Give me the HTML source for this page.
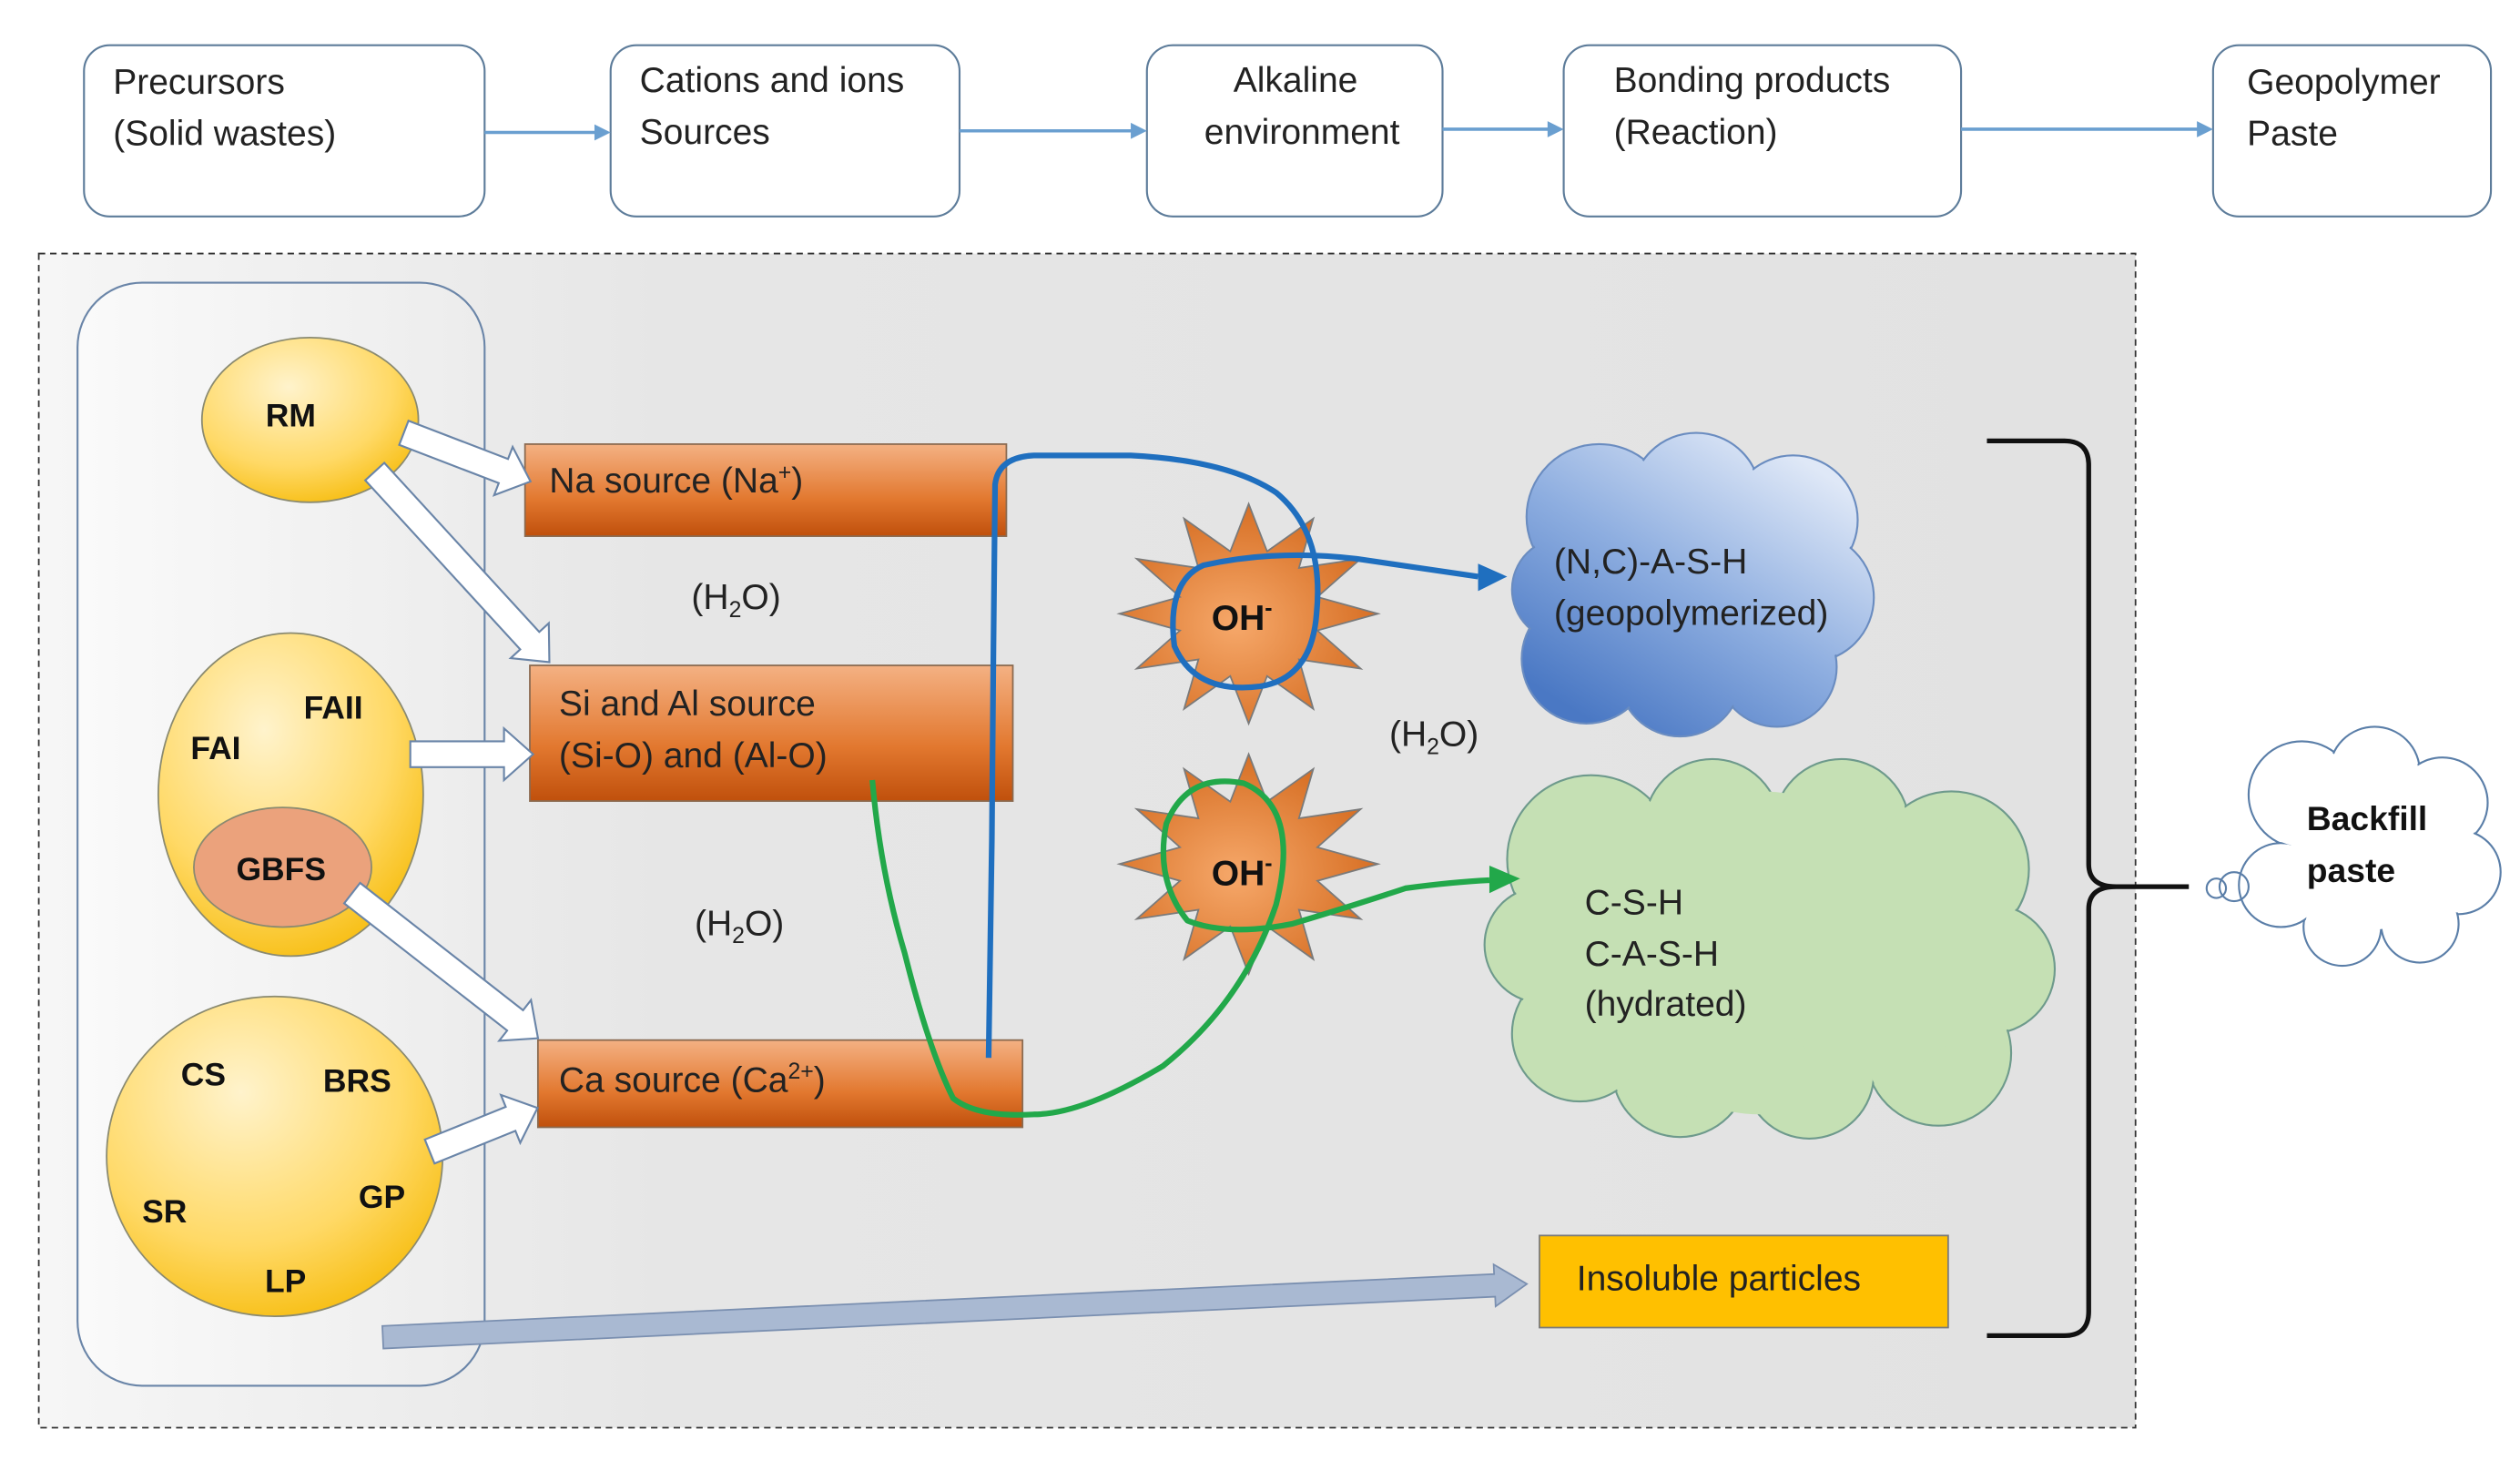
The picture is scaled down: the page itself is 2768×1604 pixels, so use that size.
<!DOCTYPE html>
<html><head><meta charset="utf-8"><style>html,body{margin:0;padding:0;background:#fff}svg{display:block}</style></head>
<body>
<svg width="2768" height="1604" viewBox="0 0 1560 904" preserveAspectRatio="none" xmlns="http://www.w3.org/2000/svg" font-family="Liberation Sans, sans-serif">
<defs>
<linearGradient id="bg" x1="0" y1="0" x2="1" y2="0"><stop offset="0" stop-color="#f6f6f6"/><stop offset="0.3" stop-color="#e6e6e6"/><stop offset="1" stop-color="#e2e2e2"/></linearGradient>
<linearGradient id="inner" x1="0" y1="0" x2="1" y2="0"><stop offset="0" stop-color="#fafafa"/><stop offset="1" stop-color="#ececec"/></linearGradient>
<radialGradient id="yel" cx="0.4" cy="0.3" r="0.8"><stop offset="0" stop-color="#fff3cc"/><stop offset="0.6" stop-color="#ffd966"/><stop offset="1" stop-color="#f5b800"/></radialGradient>
<linearGradient id="org" x1="0" y1="0" x2="0" y2="1"><stop offset="0" stop-color="#f4b183"/><stop offset="0.6" stop-color="#e2782f"/><stop offset="1" stop-color="#c0500c"/></linearGradient>
<radialGradient id="star" cx="0.45" cy="0.55" r="0.6"><stop offset="0" stop-color="#f6a86a"/><stop offset="1" stop-color="#d46a1e"/></radialGradient>
<linearGradient id="blue" gradientUnits="userSpaceOnUse" x1="1100" y1="275" x2="990" y2="450"><stop offset="0" stop-color="#dfe8f7"/><stop offset="0.5" stop-color="#8eaee0"/><stop offset="1" stop-color="#4a78c4"/></linearGradient>
</defs>
<rect width="1560" height="904" fill="#fff"/>
<g fill="#fff" stroke="#5d7c9a" stroke-width="1.2">
<rect x="52" y="28" width="248" height="106" rx="16"/>
<rect x="378" y="28" width="216" height="106" rx="16"/>
<rect x="710" y="28" width="183" height="106" rx="16"/>
<rect x="968" y="28" width="246" height="106" rx="16"/>
<rect x="1370" y="28" width="172" height="106" rx="16"/>
</g>
<g stroke="#6a9fd0" stroke-width="2" fill="#6a9fd0">
<line x1="300" y1="82" x2="370" y2="82"/><polygon points="378,82 368,77 368,87" stroke="none"/>
<line x1="594" y1="81" x2="702" y2="81"/><polygon points="710,81 700,76 700,86" stroke="none"/>
<line x1="893" y1="80" x2="960" y2="80"/><polygon points="968,80 958,75 958,85" stroke="none"/>
<line x1="1214" y1="80" x2="1362" y2="80"/><polygon points="1370,80 1360,75 1360,85" stroke="none"/>
</g>
<g font-size="22" fill="#222">
<text x="70" y="58">Precursors</text><text x="70" y="90">(Solid wastes)</text>
<text x="396" y="57">Cations and ions</text><text x="396" y="89">Sources</text>
<text x="802" y="57" text-anchor="middle">Alkaline</text><text x="806" y="89" text-anchor="middle">environment</text>
<text x="999" y="57">Bonding products</text><text x="999" y="89">(Reaction)</text>
<text x="1391" y="58">Geopolymer</text><text x="1391" y="90">Paste</text>
</g>
<rect x="24" y="157" width="1298" height="727" fill="url(#bg)" stroke="#333" stroke-width="1" stroke-dasharray="4,3"/>
<rect x="48" y="175" width="252" height="683" rx="40" fill="url(#inner)" stroke="#6a85a8" stroke-width="1.2"/>
<g stroke="#8a8a70" stroke-width="1">
<ellipse cx="192" cy="260" rx="67" ry="51" fill="url(#yel)"/>
<ellipse cx="180" cy="492" rx="82" ry="100" fill="url(#yel)"/>
<ellipse cx="175" cy="537" rx="55" ry="37" fill="#eba27c"/>
<ellipse cx="170" cy="716" rx="104" ry="99" fill="url(#yel)"/>
</g>
<g font-size="20" font-weight="bold" fill="#111">
<text x="180" y="264" text-anchor="middle">RM</text>
<text x="188" y="445">FAII</text><text x="118" y="470">FAI</text>
<text x="174" y="545" text-anchor="middle">GBFS</text>
<text x="112" y="672">CS</text><text x="200" y="676">BRS</text>
<text x="88" y="757">SR</text><text x="222" y="748">GP</text><text x="164" y="800">LP</text>
</g>
<g fill="url(#org)" stroke="#8a6a50" stroke-width="1">
<rect x="325" y="275" width="298" height="57"/>
<rect x="328" y="412" width="299" height="84"/>
<rect x="333" y="644" width="300" height="54"/>
</g>
<g font-size="22" fill="#222">
<text x="340" y="305">Na source (Na<tspan font-size="14" dy="-8">+</tspan><tspan dy="8">)</tspan></text>
<text x="346" y="443">Si and Al source</text><text x="346" y="475">(Si-O) and (Al-O)</text>
<text x="346" y="676">Ca source (Ca<tspan font-size="14" dy="-8">2+</tspan><tspan dy="8">)</tspan></text>
<text x="428" y="377">(H<tspan font-size="14" dy="5">2</tspan><tspan dy="-5">O)</tspan></text>
<text x="430" y="579">(H<tspan font-size="14" dy="5">2</tspan><tspan dy="-5">O)</tspan></text>
<text x="860" y="462">(H<tspan font-size="14" dy="5">2</tspan><tspan dy="-5">O)</tspan></text>
</g>
<g fill="#fff" stroke="#6a85a8" stroke-width="1.2">
<g transform="translate(250,268) rotate(21)"><path d="M0,-8 L66,-8 L66,-16 L84,0 L66,16 L66,8 L0,8Z"/></g>
<g transform="translate(232,292) rotate(47.5)"><path d="M0,-8 L142,-8 L142,-16 L160,0 L142,16 L142,8 L0,8Z"/></g>
<g transform="translate(254,467) rotate(0)"><path d="M0,-8 L58,-8 L58,-16 L76,0 L58,16 L58,8 L0,8Z"/></g>
<g transform="translate(218,553) rotate(38)"><path d="M0,-8 L128,-8 L128,-16 L146,0 L128,16 L128,8 L0,8Z"/></g>
<g transform="translate(266,713) rotate(-22)"><path d="M0,-8 L54,-8 L54,-16 L72,0 L54,16 L54,8 L0,8Z"/></g>
</g>
<g transform="translate(237,828) rotate(-2.67)" fill="#a9b9d2" stroke="#7a8fb0" stroke-width="1"><path d="M0,-7 L689,-7 L689,-13 L709,0 L689,13 L689,7 L0,7Z"/></g>
<g stroke="#7a7a7a" stroke-width="1" fill="url(#star)">
<polygon transform="translate(773,380)" points="80,0 42.5,10.4 69.3,34 31.1,28.3 40,58.9 11.4,38.6 0,68 -11.4,38.6 -40,58.9 -31.1,28.3 -69.3,34 -42.5,10.4 -80,0 -42.5,-10.4 -69.3,-34 -31.1,-28.3 -40,-58.9 -11.4,-38.6 0,-68 11.4,-38.6 40,-58.9 31.1,-28.3 69.3,-34 42.5,-10.4"/>
<polygon transform="translate(773,535)" points="80,0 42.5,10.4 69.3,34 31.1,28.3 40,58.9 11.4,38.6 0,68 -11.4,38.6 -40,58.9 -31.1,28.3 -69.3,34 -42.5,10.4 -80,0 -42.5,-10.4 -69.3,-34 -31.1,-28.3 -40,-58.9 -11.4,-38.6 0,-68 11.4,-38.6 40,-58.9 31.1,-28.3 69.3,-34 42.5,-10.4"/>
</g>
<g font-size="22" font-weight="bold" fill="#111">
<text x="750" y="390">OH<tspan font-size="14" dy="-9">-</tspan></text>
<text x="750" y="548">OH<tspan font-size="14" dy="-9">-</tspan></text>
</g>
<g stroke="#6a8cc0" stroke-width="1.2" fill="url(#blue)">
<circle cx="990" cy="320" r="45"/><circle cx="1050" cy="308" r="40"/><circle cx="1110" cy="322" r="40"/><circle cx="1120" cy="370" r="40"/><circle cx="1100" cy="413" r="37"/><circle cx="1040" cy="418" r="38"/><circle cx="982" cy="408" r="40"/><circle cx="968" cy="365" r="32"/>
</g>
<g fill="url(#blue)"><circle cx="990" cy="320" r="44"/><circle cx="1050" cy="308" r="39"/><circle cx="1110" cy="322" r="39"/><circle cx="1120" cy="370" r="39"/><circle cx="1100" cy="413" r="36"/><circle cx="1040" cy="418" r="37"/><circle cx="982" cy="408" r="39"/><circle cx="968" cy="365" r="31"/><circle cx="1045" cy="365" r="60"/></g>
<g stroke="#6e9a8c" stroke-width="1.2" fill="#c5e0b4">
<circle cx="985" cy="532" r="52"/><circle cx="1060" cy="512" r="42"/><circle cx="1140" cy="512" r="42"/><circle cx="1208" cy="538" r="48"/><circle cx="1232" cy="600" r="40"/><circle cx="1200" cy="652" r="45"/><circle cx="1120" cy="665" r="40"/><circle cx="1040" cy="662" r="42"/><circle cx="978" cy="640" r="42"/><circle cx="955" cy="585" r="36"/>
</g>
<g fill="#c5e0b4"><circle cx="985" cy="532" r="51"/><circle cx="1060" cy="512" r="41"/><circle cx="1140" cy="512" r="41"/><circle cx="1208" cy="538" r="47"/><circle cx="1232" cy="600" r="39"/><circle cx="1200" cy="652" r="44"/><circle cx="1120" cy="665" r="39"/><circle cx="1040" cy="662" r="41"/><circle cx="978" cy="640" r="41"/><circle cx="955" cy="585" r="35"/><circle cx="1090" cy="590" r="100"/><circle cx="1160" cy="600" r="65"/><circle cx="1005" cy="595" r="45"/></g>
<g stroke="#5a7ea8" stroke-width="1.2" fill="#fff">
<circle cx="1425" cy="492" r="33"/><circle cx="1470" cy="478" r="28"/><circle cx="1512" cy="497" r="28"/><circle cx="1522" cy="540" r="26"/><circle cx="1498" cy="572" r="24"/><circle cx="1450" cy="574" r="24"/><circle cx="1412" cy="548" r="26"/>
</g>
<g fill="#fff"><circle cx="1425" cy="492" r="32"/><circle cx="1470" cy="478" r="27"/><circle cx="1512" cy="497" r="27"/><circle cx="1522" cy="540" r="25"/><circle cx="1498" cy="572" r="23"/><circle cx="1450" cy="574" r="23"/><circle cx="1412" cy="548" r="25"/><circle cx="1466" cy="528" r="48"/></g>
<g fill="none" stroke="#5a7ea8" stroke-width="1.2"><circle cx="1372" cy="550" r="6"/><circle cx="1383" cy="549" r="9"/></g>
<g font-size="22" fill="#222">
<text x="962" y="355">(N,C)-A-S-H</text><text x="962" y="387">(geopolymerized)</text>
<text x="981" y="566">C-S-H</text><text x="981" y="598">C-A-S-H</text><text x="981" y="629">(hydrated)</text>
</g>
<g font-size="21" font-weight="bold" fill="#111"><text x="1428" y="514">Backfill</text><text x="1428" y="546">paste</text></g>
<rect x="953" y="765" width="253" height="57" fill="#ffc000" stroke="#7a7a7a" stroke-width="1"/>
<text x="976" y="799" font-size="22" fill="#222">Insoluble particles</text>
<path d="M1230,273 L1278,273 Q1293,273 1293,288 L1293,535 Q1293,549 1310,549 L1355,549 M1310,549 Q1293,549 1293,563 L1293,812 Q1293,827 1278,827 L1230,827" fill="none" stroke="#111" stroke-width="3"/>
<path d="M612,655 L614,520 L615,400 L616,300 Q618,283 640,282 L700,282 Q760,285 790,305 Q820,330 815,380 Q812,420 780,425 Q740,430 727,400 Q722,360 745,350 Q790,340 840,346 Q880,352 915,357" fill="none" stroke="#1f6fbf" stroke-width="3.5" stroke-linejoin="round"/>
<polygon points="933,357 915,349 915,366" fill="#1f6fbf"/>
<path d="M540,483 Q545,540 560,590 Q575,650 590,680 Q605,692 640,690 Q670,690 720,660 Q770,620 790,560 Q805,500 770,485 Q735,478 722,510 Q715,545 735,570 Q760,580 800,572 Q840,560 870,550 Q900,546 922,545" fill="none" stroke="#22a84a" stroke-width="3.5" stroke-linejoin="round"/>
<polygon points="941,544 922,536 922,553" fill="#22a84a"/>
</svg>
</body></html>
